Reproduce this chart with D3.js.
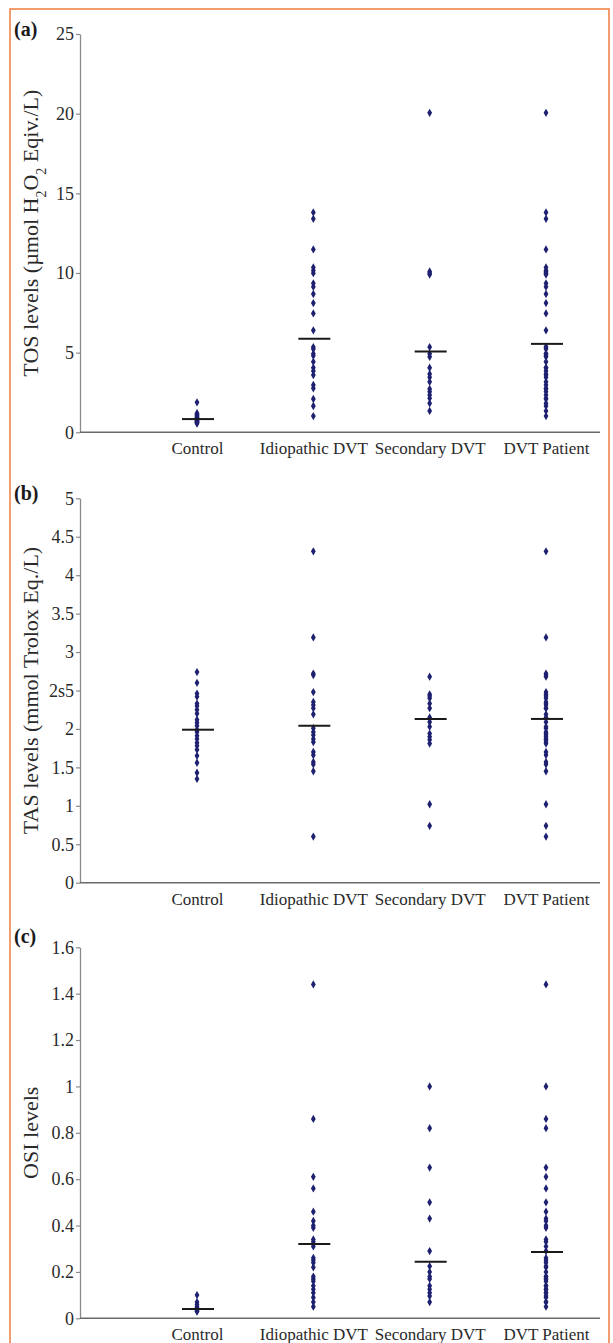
<!DOCTYPE html>
<html>
<head>
<meta charset="utf-8">
<script src="https://cdn.jsdelivr.net/npm/d3@7"></script>
<style>
  html, body { margin: 0; padding: 0; background: #fff; }
  svg, svg text { font-family: "Liberation Serif", "Times New Roman", serif; }
</style>
</head>
<body>
<div id="chart"></div>
<script>
// ====== data ======
const categories = ["Control", "Idiopathic DVT", "Secondary DVT", "DVT Patient"];

// (a) TOS
const tosControl   = [1.88, 1.2, 1.15, 1.1, 1.05, 1.0, 0.95, 0.92, 0.88, 0.85, 0.82, 0.8, 0.78, 0.75, 0.72, 0.7, 0.68, 0.65, 0.62, 0.6, 0.55];
const tosIdiopathic = [13.8, 13.4, 11.48, 10.35, 10.15, 9.99, 9.35, 9.13, 8.68, 8.11, 7.46, 6.4, 5.35, 5.23, 4.93, 4.81, 4.43, 4.05, 3.85, 3.59, 2.97, 2.76, 2.09, 1.65, 1.02];
const tosSecondary = [20.05, 10.1, 10.0, 9.9, 5.35, 4.93, 4.74, 4.05, 3.66, 3.45, 3.17, 2.72, 2.55, 2.34, 2.13, 1.82, 1.34];
const tosPatient   = [20.05, 13.8, 13.4, 11.48, 10.35, 10.15, 10.1, 10.0, 9.99, 9.9, 9.35, 9.13, 8.68, 8.11, 7.46, 6.4, 5.35, 5.35, 5.23, 4.93, 4.93, 4.81, 4.74, 4.43, 4.05, 4.05, 3.85, 3.66, 3.59, 3.45, 3.17, 2.97, 2.76, 2.72, 2.55, 2.34, 2.13, 2.09, 1.82, 1.65, 1.34, 1.02];
const tosMeans = [0.83, 5.87, 5.07, 5.55];
const tosTicks = [0, 5, 10, 15, 20, 25];

// (b) TAS
const tasControl   = [2.74, 2.6, 2.46, 2.42, 2.33, 2.3, 2.25, 2.2, 2.12, 2.08, 2.04, 1.99, 1.96, 1.91, 1.87, 1.82, 1.78, 1.73, 1.65, 1.56, 1.43, 1.35];
const tasIdiopathic = [4.31, 3.19, 2.72, 2.7, 2.48, 2.35, 2.31, 2.27, 2.19, 2.01, 1.96, 1.92, 1.87, 1.83, 1.7, 1.66, 1.57, 1.54, 1.45, 0.6];
const tasSecondary = [2.68, 2.45, 2.43, 2.4, 2.33, 2.27, 2.15, 2.09, 2.03, 1.94, 1.9, 1.86, 1.81, 1.02, 0.74];
const tasPatient   = [4.31, 3.19, 2.72, 2.7, 2.68, 2.48, 2.45, 2.43, 2.4, 2.35, 2.33, 2.31, 2.27, 2.27, 2.19, 2.15, 2.09, 2.03, 2.01, 1.96, 1.94, 1.92, 1.9, 1.87, 1.86, 1.83, 1.81, 1.7, 1.66, 1.57, 1.54, 1.45, 1.02, 0.74, 0.6];
const tasMeans = [1.99, 2.04, 2.13, 2.13];
const tasTicks = [0, 0.5, 1, 1.5, 2, 2.5, 3, 3.5, 4, 4.5, 5];
const tasTickLabels = ["0", "0.5", "1", "1.5", "2", "2s5", "3", "3.5", "4", "4.5", "5"];

// (c) OSI
const osiControl   = [0.1, 0.07, 0.06, 0.05, 0.045, 0.04, 0.035, 0.03, 0.03];
const osiIdiopathic = [1.44, 0.86, 0.61, 0.56, 0.46, 0.42, 0.4, 0.39, 0.34, 0.33, 0.31, 0.26, 0.25, 0.24, 0.22, 0.18, 0.17, 0.16, 0.14, 0.125, 0.11, 0.09, 0.07, 0.05];
const osiSecondary = [1.0, 0.82, 0.65, 0.5, 0.43, 0.29, 0.225, 0.2, 0.18, 0.17, 0.14, 0.125, 0.11, 0.096, 0.07];
const osiPatient   = [1.44, 1.0, 0.86, 0.82, 0.65, 0.61, 0.56, 0.5, 0.46, 0.43, 0.42, 0.4, 0.39, 0.34, 0.33, 0.31, 0.29, 0.26, 0.25, 0.24, 0.225, 0.22, 0.2, 0.18, 0.18, 0.17, 0.17, 0.16, 0.14, 0.14, 0.125, 0.125, 0.11, 0.11, 0.096, 0.09, 0.07, 0.07, 0.05];
const osiMeans = [0.04, 0.32, 0.244, 0.286];
const osiTicks = [0, 0.2, 0.4, 0.6, 0.8, 1, 1.2, 1.4, 1.6];

const FONT = '"Liberation Serif", "Times New Roman", serif';


class DotPanel {
  constructor(svg, opts) {
    this.svg = svg;
    this.o = opts;
    this.g = svg.append("g").attr("font-family", FONT);
    this.initScales();
    this.drawAxes();
    this.drawPoints();
    this.drawMeans();
    this.drawLabels();
  }

  initScales() {
    const o = this.o;
    this.x = d3.scalePoint().domain(categories).range([197, 546]);
    this.y = d3.scaleLinear().domain([0, o.max]).range([o.bottom, o.top]);
  }

  drawAxes() {
    const o = this.o;
    const yAxis = d3.axisLeft(this.y)
      .tickValues(o.ticks)
      .tickSize(4)
      .tickSizeOuter(0)
      .tickPadding(2)
      .tickFormat((d, i) => o.tickLabels ? o.tickLabels[i] : d3.format("~g")(d));

    const ya = this.g.append("g")
      .attr("transform", "translate(80,0)")
      .call(yAxis)
      .attr("font-family", FONT)
      .attr("font-size", 18);
    ya.select(".domain").attr("stroke", "#8a8a8a").attr("stroke-width", 1.3);
    ya.selectAll(".tick line").attr("stroke", "#8a8a8a").attr("stroke-width", 1.2);
    ya.selectAll(".tick text").attr("fill", "#2a2a2a");

    // x axis: plain line + category labels
    this.g.append("line")
      .attr("x1", 80).attr("x2", 600)
      .attr("y1", o.bottom).attr("y2", o.bottom)
      .attr("stroke", "#6a6a6a")
      .attr("stroke-width", 1.5);

    const xa = this.g.append("g")
      .attr("transform", `translate(0,${o.bottom})`)
      .call(d3.axisBottom(this.x).tickSize(0).tickPadding(10))
      .attr("font-family", FONT)
      .attr("font-size", 17);
    xa.select(".domain").remove();
    xa.selectAll(".tick text").attr("fill", "#2a2a2a");
  }

  drawPoints() {
    const symbol = d3.symbol().type(d3.symbolDiamond).size(20);
    this.o.series.forEach((vals, i) => {
      const cx = this.x(categories[i]);
      this.g.append("g")
        .selectAll("path")
        .data(vals)
        .join("path")
        .attr("d", symbol)
        .attr("transform", d => `translate(${cx},${this.y(d)})`)
        .attr("fill", "#1e2070");
    });
  }

  drawMeans() {
    const halfW = 16;
    this.g.append("g")
      .selectAll("line")
      .data(this.o.means)
      .join("line")
      .attr("x1", (d, i) => this.x(categories[i]) - halfW + 1)
      .attr("x2", (d, i) => this.x(categories[i]) + halfW + 1)
      .attr("y1", d => this.y(d))
      .attr("y2", d => this.y(d))
      .attr("stroke", "#1a1a1a")
      .attr("stroke-width", 2);
  }

  drawLabels() {
    const o = this.o;
    // panel letter
    this.g.append("text")
      .attr("x", 14)
      .attr("y", o.letterY)
      .attr("font-size", 20)
      .attr("font-weight", "bold")
      .attr("fill", "#1a1a1a")
      .text(o.letter);

    // y title
    const t = this.g.append("text")
      .attr("transform", `translate(38,${(o.top + o.bottom) / 2}) rotate(-90)`)
      .attr("text-anchor", "middle")
      .attr("fill", "#2a2a2a")
      .attr("font-size", 22);
    o.title.forEach(part => {
      const ts = t.append("tspan").text(part.t);
      if (part.sub) ts.attr("baseline-shift", "sub").attr("font-size", 14);
    });
  }
}


function main() {
  const W = 613, H = 1343;
  const svg = d3.select("#chart").append("svg")
    .attr("width", W)
    .attr("height", H)
    .attr("font-family", FONT);

  svg.append("rect")
    .attr("width", W).attr("height", H)
    .attr("fill", "#fff");

  // orange frame (bottom edge runs off the page)
  svg.append("rect")
    .attr("x", 10).attr("y", 9)
    .attr("width", 599).attr("height", H + 20)
    .attr("fill", "none")
    .attr("stroke", "#ef7d3c")
    .attr("stroke-width", 1.5);

  new DotPanel(svg, {
    letter: "(a)", letterY: 36,
    top: 34, bottom: 432.3, max: 25,
    ticks: tosTicks,
    series: [tosControl, tosIdiopathic, tosSecondary, tosPatient],
    means: tosMeans,
    title: [
      { t: "TOS levels (\u00b5mol H" }, { t: "2", sub: true },
      { t: "O" }, { t: "2", sub: true }, { t: " Eqiv./L)" }
    ]
  });

  new DotPanel(svg, {
    letter: "(b)", letterY: 500,
    top: 498.3, bottom: 882.7, max: 5,
    ticks: tasTicks, tickLabels: tasTickLabels,
    series: [tasControl, tasIdiopathic, tasSecondary, tasPatient],
    means: tasMeans,
    title: [{ t: "TAS levels (mmol Trolox Eq./L)" }]
  });

  new DotPanel(svg, {
    letter: "(c)", letterY: 943,
    top: 947.3, bottom: 1318.3, max: 1.6,
    ticks: osiTicks,
    series: [osiControl, osiIdiopathic, osiSecondary, osiPatient],
    means: osiMeans,
    title: [{ t: "OSI levels" }]
  });
}

main();
</script>
</body>
</html>
